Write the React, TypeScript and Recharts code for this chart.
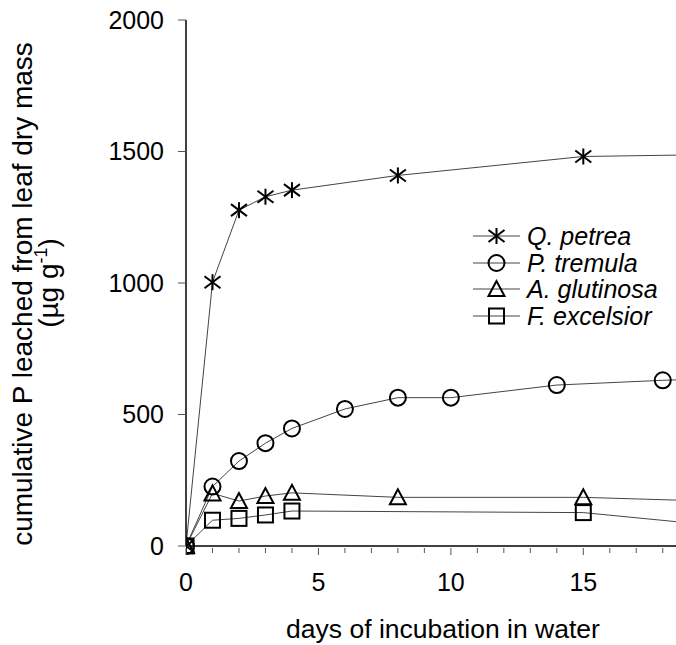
import { Line, LineChart, XAxis, YAxis } from "recharts";

const FONT = "'Liberation Sans', Arial, Helvetica, sans-serif";

// x = day of incubation, y = cumulative P (µg g-1); last points lie past the axis end
const qPetreaDays = [0, 1, 2, 3, 4, 8, 15, 21];
const qPetreaP = [0, 1003, 1277, 1328, 1353, 1409, 1481, 1490];

const pTremulaDays = [0, 1, 2, 3, 4, 6, 8, 10, 14, 18, 21];
const pTremulaP = [0, 226, 323, 391, 447, 521, 564, 564, 612, 630, 640];

const aGlutinosaDays = [0, 1, 2, 3, 4, 8, 15, 21];
const aGlutinosaP = [0, 200, 171, 190, 202, 185, 185, 167];

const fExcelsiorDays = [0, 1, 2, 3, 4, 15, 21];
const fExcelsiorP = [0, 98, 105, 118, 133, 127, 68];

const xTicks = [0, 1, 2, 3, 4, 5, 6, 7, 8, 9, 10, 11, 12, 13, 14, 15, 16, 17, 18];
const yTicks = [0, 500, 1000, 1500, 2000];

const zip = (xs: number[], ys: number[]) => xs.map((x, i) => ({ x, y: ys[i] }));

type Shape = "star" | "circle" | "triangle" | "square";

function Marker({ cx, cy, shape }: { cx: number; cy: number; shape: Shape }) {
  const p = { stroke: "#000", strokeWidth: 2, fill: "none" };
  if (shape === "star")
    return (
      <g {...p}>
        <line x1={cx} y1={cy - 8} x2={cx} y2={cy + 8} />
        <line x1={cx - 8} y1={cy - 6} x2={cx + 8} y2={cy + 6} />
        <line x1={cx - 8} y1={cy + 6} x2={cx + 8} y2={cy - 6} />
      </g>
    );
  if (shape === "circle") return <circle cx={cx} cy={cy} r={8} {...p} />;
  if (shape === "triangle")
    return <polygon points={`${cx},${cy - 8} ${cx - 8},${cy + 7} ${cx + 8},${cy + 7}`} {...p} />;
  return <rect x={cx - 7.5} y={cy - 7.5} width={15} height={15} {...p} />;
}

const dotFor = (shape: Shape) => (props: any) =>
  <Marker key={`${shape}-${props.index}`} cx={props.cx} cy={props.cy} shape={shape} />;

const series: { name: string; shape: Shape; data: { x: number; y: number }[] }[] = [
  { name: "Q. petrea", shape: "star", data: zip(qPetreaDays, qPetreaP) },
  { name: "P. tremula", shape: "circle", data: zip(pTremulaDays, pTremulaP) },
  { name: "A. glutinosa", shape: "triangle", data: zip(aGlutinosaDays, aGlutinosaP) },
  { name: "F. excelsior", shape: "square", data: zip(fExcelsiorDays, fExcelsiorP) },
];

function XTick({ x, y, payload }: any) {
  const major = payload.value % 5 === 0;
  return (
    <g>
      <line x1={x} y1={y} x2={x} y2={y + (major ? 7 : 5)} stroke="#555" strokeWidth={1} />
      {major && (
        <text x={x} y={y + 43} textAnchor="middle" fontSize={25} fontFamily={FONT} fill="#000">
          {payload.value}
        </text>
      )}
    </g>
  );
}

function YTitle() {
  return (
    <g fontFamily={FONT} fontSize={28} fill="#000">
      <text transform="translate(32,294) rotate(-90)" textAnchor="middle">
        cumulative P leached from leaf dry mass
      </text>
      <text transform="translate(58,283) rotate(-90)" textAnchor="middle">
        (µg g<tspan fontSize={18} dy={-11}>-1</tspan>
        <tspan dy={11}>)</tspan>
      </text>
    </g>
  );
}

function LegendBox() {
  return (
    <div
      style={{
        position: "absolute",
        left: 473,
        top: 223,
        fontFamily: FONT,
        fontSize: 25,
        lineHeight: "26px",
        fontStyle: "italic",
      }}
    >
      {series.map((s) => (
        <div key={s.name} style={{ display: "flex", alignItems: "center", height: 26.5 }}>
          <svg width={54} height={26} style={{ flex: "none" }}>
            <line x1={0} y1={13} x2={47} y2={13} stroke="#444" strokeWidth={1} />
            <Marker cx={23.5} cy={13} shape={s.shape} />
          </svg>
          <span style={{ whiteSpace: "nowrap", lineHeight: "26px" }}>{s.name}</span>
        </div>
      ))}
    </div>
  );
}

export default function App() {
  return (
    <div style={{ position: "absolute", left: 0, top: 0, width: 676, height: 645, background: "#fff" }}>
      <LineChart width={676} height={645} margin={{ top: 20, right: 0, bottom: 69, left: 0 }}>
        <XAxis
          type="number"
          dataKey="x"
          domain={[0, 18.5]}
          allowDataOverflow
          ticks={xTicks}
          interval={0}
          tickSize={0}
          tickLine={false}
          tick={<XTick />}
          axisLine={{ stroke: "#000", strokeWidth: 1.5 }}
        />
        <YAxis
          type="number"
          dataKey="y"
          domain={[0, 2000]}
          ticks={yTicks}
          width={186}
          tickSize={8}
          tickMargin={14}
          tickLine={{ stroke: "#555", strokeWidth: 1 }}
          axisLine={{ stroke: "#000", strokeWidth: 1.5 }}
          tick={{ fontSize: 25, fontFamily: FONT, fill: "#000" }}
          label={<YTitle />}
        />
        {series.map((s) => (
          <Line
            key={s.name}
            data={s.data}
            dataKey="y"
            name={s.name}
            type="linear"
            stroke="#444"
            strokeWidth={1}
            dot={dotFor(s.shape)}
            activeDot={false}
            isAnimationActive={false}
          />
        ))}
        <text x={443} y={638} textAnchor="middle" fontSize={26.5} fontFamily={FONT} fill="#000">
          days of incubation in water
        </text>
      </LineChart>
      <LegendBox />
    </div>
  );
}
